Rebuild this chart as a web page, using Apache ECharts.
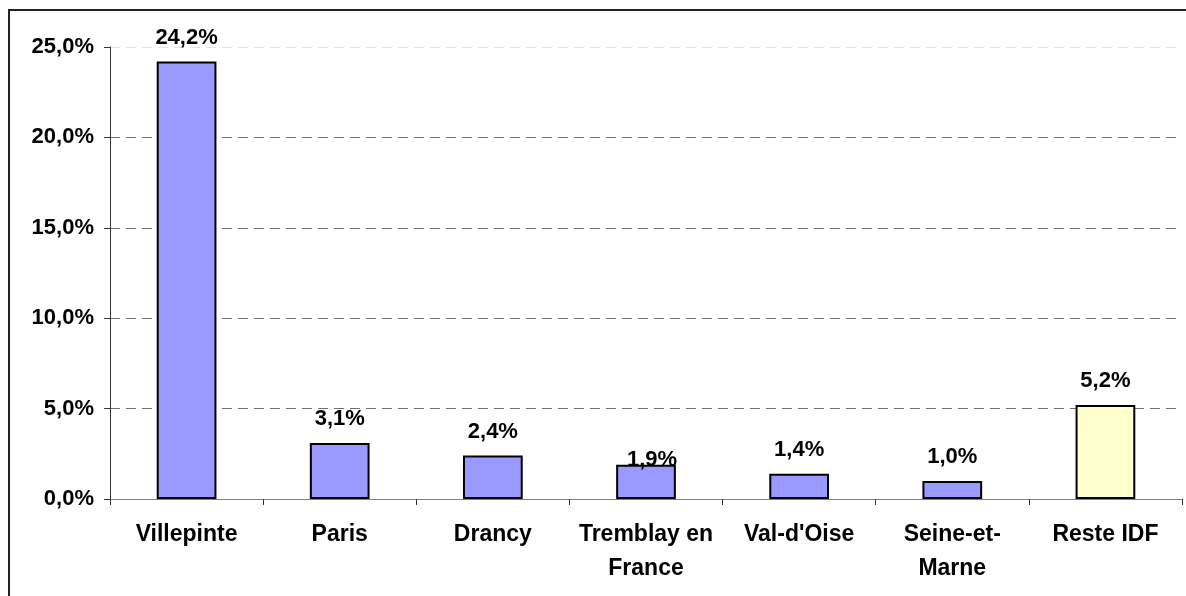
<!DOCTYPE html>
<html>
<head>
<meta charset="utf-8">
<script src="https://cdn.jsdelivr.net/npm/echarts@6/dist/echarts.min.js"></script>
<style>
  html, body { margin: 0; padding: 0; background: #fff; }
  #chart { width: 1186px; height: 596px; }
</style>
</head>
<body>
<div id="chart"></div>
<script>
var categories = ['Villepinte', 'Paris', 'Drancy', 'Tremblay en\nFrance', "Val-d'Oise", 'Seine-et-\nMarne', 'Reste IDF'];
var values = [24.2, 3.1, 2.4, 1.9, 1.4, 1.0, 5.2];
var yTicks = [0, 5, 10, 15, 20, 25];

function pct(v) {
    return v.toFixed(1).replace('.', ',') + '%';
}

var chart = echarts.init(document.getElementById('chart'));

var barData = values.map(function (v, i) {
    var item = {
        value: v,
        itemStyle: { color: categories[i] === 'Reste IDF' ? '#FFFFCC' : '#9999FF' }
    };
    // Excel put this one label a bit low and to the right
    if (categories[i].indexOf('Tremblay') === 0) {
        item.label = { offset: [6, 19] };
    }
    return item;
});

var font = 'Liberation Sans, Arial, sans-serif';

chart.setOption({
    animation: false,
    textStyle: { fontFamily: font },
    graphic: [{
        type: 'rect',
        shape: { x: 9, y: 10, width: 1200, height: 620 },
        style: { fill: 'none', stroke: '#222', lineWidth: 2 },
        silent: true
    }],
    grid: { left: 110, right: 4, top: 47, bottom: 97 },
    xAxis: {
        type: 'category',
        data: categories,
        axisLine: { lineStyle: { color: '#808080', width: 1 } },
        axisTick: { show: true, length: 6, lineStyle: { color: '#333' } },
        axisLabel: {
            interval: 0,
            margin: 19,
            color: '#000',
            fontWeight: 'bold',
            fontSize: 23,
            lineHeight: 34,
            fontFamily: font
        }
    },
    yAxis: {
        type: 'value',
        min: yTicks[0],
        max: yTicks[yTicks.length - 1],
        interval: 5,
        axisLine: { show: true, lineStyle: { color: '#333', width: 1 } },
        axisTick: { show: true, length: 6, lineStyle: { color: '#333' } },
        axisLabel: {
            margin: 16,
            color: '#000',
            fontWeight: 'bold',
            fontSize: 22,
            fontFamily: font,
            formatter: pct
        },
        splitLine: {
            show: true,
            lineStyle: {
                type: [10, 6],
                color: ['#707070', '#707070', '#707070', '#707070', '#707070', '#e4e4e4']
            }
        }
    },
    series: [{
        type: 'bar',
        data: barData,
        barWidth: '39%',
        itemStyle: { borderColor: '#000', borderWidth: 2 },
        label: {
            show: true,
            position: 'top',
            distance: 13,
            color: '#000',
            fontWeight: 'bold',
            fontSize: 22,
            fontFamily: font,
            formatter: function (p) { return pct(p.value); }
        }
    }]
});
</script>
</body>
</html>
